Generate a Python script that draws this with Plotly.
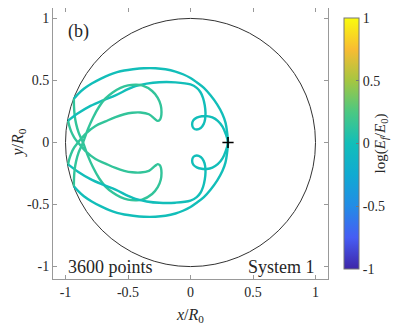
import plotly.graph_objects as go
from plotly.colors import sample_colorscale

# parula-like colour map used for log(E_f/E_0)
PARULA = [
    [0.0, "rgb(62,38,168)"],
    [0.125, "rgb(70,93,244)"],
    [0.25, "rgb(35,140,230)"],
    [0.375, "rgb(16,170,210)"],
    [0.5, "rgb(18,190,185)"],
    [0.625, "rgb(75,200,130)"],
    [0.75, "rgb(165,198,65)"],
    [0.875, "rgb(248,188,50)"],
    [1.0, "rgb(249,251,14)"],
]

R_WALL = 1.0
START = (0.3, 0.0)

# trajectory pieces between wall hits (x/R0, y/R0)
# 1) lower-left wall -> outer arc -> start point -> outer arc -> upper-left wall
seg1_x = [-0.933, -0.9, -0.853, -0.79, -0.72, -0.65, -0.587, -0.53, -0.46, -0.373, -0.28, -0.2, -0.12,
          -0.06, 0.0, 0.05, 0.107, 0.16, 0.213, 0.255, 0.28, 0.293, 0.3,
          0.293, 0.28, 0.255, 0.213, 0.16, 0.107, 0.05, 0.0, -0.06, -0.12, -0.2, -0.28, -0.373,
          -0.46, -0.53, -0.587, -0.65, -0.72, -0.79, -0.853, -0.9, -0.933]
seg1_y = [-0.353, -0.39, -0.433, -0.475, -0.513, -0.545, -0.567, -0.58, -0.59, -0.598, -0.598, -0.59, -0.572,
          -0.55, -0.52, -0.485, -0.44, -0.38, -0.307, -0.23, -0.16, -0.08, 0.0,
          0.08, 0.16, 0.23, 0.307, 0.38, 0.44, 0.485, 0.52, 0.55, 0.572, 0.59, 0.598, 0.598,
          0.59, 0.58, 0.567, 0.545, 0.513, 0.475, 0.433, 0.39, 0.353]

# 2) upper-left wall -> down across axis -> lower hook -> back across axis -> wall
seg2_x = [-0.933, -0.932, -0.927, -0.915, -0.895, -0.86, -0.82, -0.78, -0.73, -0.68, -0.62, -0.56,
          -0.5, -0.44, -0.387, -0.307, -0.262, -0.238, -0.232, -0.236, -0.245, -0.262, -0.285,
          -0.333, -0.4, -0.467, -0.53, -0.6, -0.68, -0.76, -0.84, -0.9, -0.93, -0.955, -0.97, -0.979]
seg2_y = [0.353, 0.29, 0.22, 0.15, 0.08, 0.0, -0.11, -0.2, -0.29, -0.355, -0.405, -0.44,
          -0.46, -0.465, -0.46, -0.415, -0.36, -0.3, -0.245, -0.205, -0.183, -0.174, -0.19,
          -0.228, -0.242, -0.24, -0.228, -0.205, -0.17, -0.133, -0.07, 0.0, 0.04, 0.09, 0.135, 0.176]

# 3) wall -> second arc -> small loop -> start point -> small loop -> second arc -> wall
seg3_x = [-0.979, -0.9, -0.8, -0.7, -0.6, -0.5, -0.44, -0.35, -0.25, -0.12, 0.0, 0.05, 0.08, 0.1,
          0.114, 0.12, 0.117, 0.105, 0.082, 0.05, 0.024, 0.013, 0.022, 0.05, 0.09, 0.13, 0.175,
          0.218, 0.256, 0.283, 0.3,
          0.283, 0.256, 0.218, 0.175, 0.13, 0.09, 0.05, 0.022, 0.013, 0.024, 0.05, 0.082, 0.105,
          0.117, 0.12, 0.114, 0.1, 0.08, 0.05, 0.0, -0.12, -0.25, -0.35, -0.44, -0.5, -0.6, -0.7,
          -0.8, -0.9, -0.979]
seg3_y = [0.176, 0.235, 0.295, 0.34, 0.38, 0.43, 0.455, 0.475, 0.486, 0.485, 0.468, 0.44, 0.405, 0.36,
          0.3, 0.24, 0.19, 0.148, 0.117, 0.105, 0.115, 0.145, 0.178, 0.2, 0.212, 0.213, 0.202,
          0.175, 0.128, 0.065, 0.0,
          -0.065, -0.128, -0.175, -0.202, -0.213, -0.212, -0.2, -0.178, -0.145, -0.115, -0.105,
          -0.117, -0.148, -0.19, -0.24, -0.3, -0.36, -0.405, -0.44, -0.468, -0.485, -0.486, -0.475,
          -0.455, -0.43, -0.38, -0.34, -0.295, -0.235, -0.176]

# 4) lower wall -> across axis -> upper hook -> back across axis -> lower-left wall
seg4_x = [-0.979, -0.97, -0.955, -0.93, -0.9, -0.84, -0.76, -0.68, -0.6, -0.53, -0.467, -0.4, -0.333,
          -0.285, -0.262, -0.245, -0.236, -0.232, -0.238, -0.262, -0.307, -0.387, -0.44, -0.5, -0.56,
          -0.62, -0.68, -0.73, -0.78, -0.82, -0.86, -0.895, -0.915, -0.927, -0.932, -0.933]
seg4_y = [-0.176, -0.135, -0.09, -0.04, 0.0, 0.07, 0.133, 0.17, 0.205, 0.228, 0.24, 0.242, 0.228,
          0.19, 0.174, 0.183, 0.205, 0.245, 0.3, 0.36, 0.415, 0.46, 0.465, 0.46, 0.44,
          0.405, 0.355, 0.29, 0.2, 0.11, 0.0, -0.08, -0.15, -0.22, -0.29, -0.353]

# log(E_f/E_0) of each piece
seg_logE = [0.0, 0.14, 0.0, 0.14]

segments = [(seg1_x, seg1_y), (seg2_x, seg2_y), (seg3_x, seg3_y), (seg4_x, seg4_y)]
colors = sample_colorscale(PARULA, [(v + 1) / 2 for v in seg_logE])

SERIF = "Liberation Serif"
INK = "#262626"

fig = go.Figure()

for (sx, sy), c in zip(segments, colors):
    fig.add_trace(go.Scatter(x=sx, y=sy, mode="lines",
                             line=dict(color=c, width=2.4, shape="spline", smoothing=1.0),
                             showlegend=False, hoverinfo="skip"))

fig.add_trace(go.Scatter(x=[START[0]], y=[START[1]], mode="markers",
                         marker=dict(symbol="cross-thin", size=8, line=dict(color="black", width=1.6)),
                         showlegend=False))

# colour bar only
fig.add_trace(go.Scatter(x=[None], y=[None], mode="markers", showlegend=False,
                         marker=dict(colorscale=PARULA, cmin=-1, cmax=1, color=[0], showscale=True,
                                     colorbar=dict(
                                         x=1.022, xanchor="left", y=0.5, yanchor="middle",
                                         len=1.0, thickness=15, outlinewidth=1, outlinecolor="#777",
                                         tickvals=[-1, -0.5, 0, 0.5, 1],
                                         ticktext=["-1", "-0.5", "0", "0.5", "1"],
                                         ticks="inside", ticklen=3, tickcolor="#777",
                                         tickfont=dict(family=SERIF, size=14, color=INK),
                                         title=dict(text="log(<i>E<sub>f</sub></i>/<i>E</i><sub>0</sub>)",
                                                    side="right",
                                                    font=dict(family=SERIF, size=15, color=INK))))))

fig.add_shape(type="circle", xref="x", yref="y", x0=-R_WALL, y0=-R_WALL, x1=R_WALL, y1=R_WALL,
              line=dict(color="#333", width=1), layer="below")

ticks = [-1, -0.5, 0, 0.5, 1]
tick_text = ["-1", "-0.5", "0", "0.5", "1"]
axis_style = dict(tickvals=ticks, ticktext=tick_text, showgrid=False, zeroline=False,
                  showline=True, linecolor="#999", linewidth=1, mirror="allticks", ticks="inside",
                  ticklen=4, tickcolor="#999", automargin=False,
                  tickfont=dict(family=SERIF, size=14, color=INK))

fig.update_xaxes(**axis_style, range=[-1.1, 1.1])
fig.update_yaxes(**axis_style, range=[-1.1, 1.084])

# axis titles
fig.add_annotation(text="<i>x</i>/<i>R</i><sub>0</sub>", xref="paper", yref="paper", x=0.498, y=-0.133,
                   xanchor="center", yanchor="middle", showarrow=False,
                   font=dict(family=SERIF, size=16, color=INK))
fig.add_annotation(text="<i>y</i>/<i>R</i><sub>0</sub>", xref="paper", yref="paper", x=-0.127, y=0.5,
                   xanchor="center", yanchor="middle", showarrow=False, textangle=-90,
                   font=dict(family=SERIF, size=16, color=INK))

fig.add_annotation(text="(b)", xref="paper", yref="paper", x=0.047, y=0.915, xanchor="left",
                   yanchor="middle", showarrow=False, font=dict(family=SERIF, size=18, color=INK))
fig.add_annotation(text="3600 points", xref="paper", yref="paper", x=0.047, y=0.044, xanchor="left",
                   yanchor="middle", showarrow=False, font=dict(family=SERIF, size=18, color=INK))
fig.add_annotation(text="System 1", xref="paper", yref="paper", x=0.96, y=0.044, xanchor="right",
                   yanchor="middle", showarrow=False, font=dict(family=SERIF, size=18, color=INK))

# page body adds an 8 px offset, so the canvas is a little smaller than the window
fig.update_layout(width=391, height=317, margin=dict(l=45, r=71, t=0, b=46, autoexpand=False),
                  plot_bgcolor="white", paper_bgcolor="white", showlegend=False)

fig.write_html("out.html")
